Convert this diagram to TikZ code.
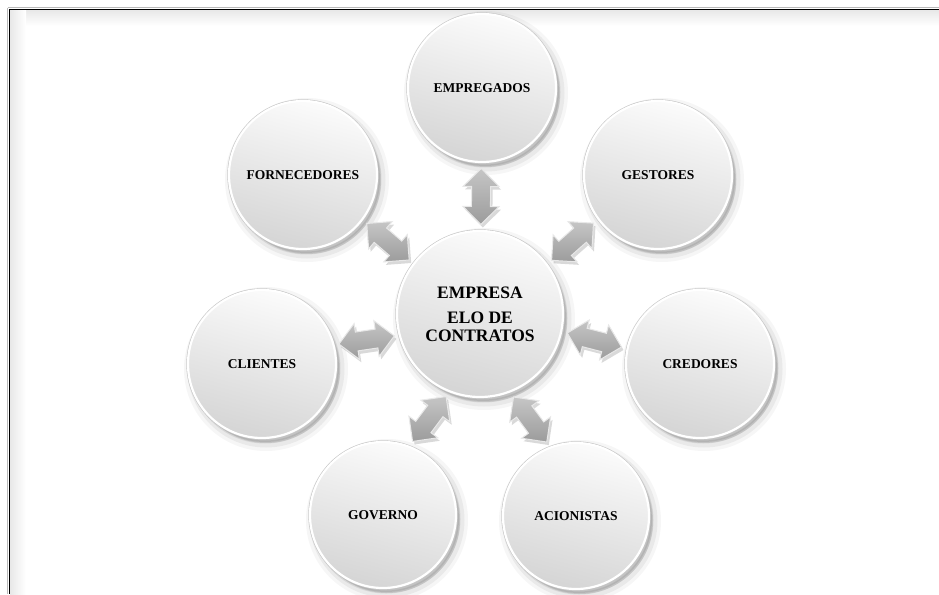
\documentclass[tikz,border=0pt]{standalone}
\usepackage{fontspec}
\setmainfont{Liberation Serif}
\usetikzlibrary{shapes.arrows,calc}

% double block arrow placed in the gap between the hub and an outer circle
% #1 outer node, #2 its radius (pt), #3 extra turn of the arrow (deg)
\newcommand\tiearrow[3]{%
  \path let \p1=($(#1)-(hub)$) in
    node[linkarrow, rotate={atan2(\y1,\x1)+#3}] (tie-#1)
      at ($(hub)!{0.5*(85pt+veclen(\x1,\y1)-#2pt-2pt)}!(#1)$) {};%
}

\begin{document}
\begin{tikzpicture}[x=1pt, y={(0pt,-1pt)},
  softshadow/.style={
    preaction={draw=black, fill=black, opacity=0.035, line width=16pt,
      transform canvas={shift={(4pt,-5pt)}}},
    preaction={draw=black, fill=black, opacity=0.05, line width=9pt,
      transform canvas={shift={(4pt,-5pt)}}},
    preaction={draw=black, fill=black, opacity=0.08, line width=3pt,
      transform canvas={shift={(3pt,-4pt)}}}},
  bubble/.style={circle, minimum size=#1, inner sep=0pt, softshadow,
    preaction={draw=gray!45, line width=3.4pt},
    top color=gray!3, bottom color=gray!33, shading angle=-15,
    draw=white, line width=2.2pt,
    font=\bfseries\fontsize{13.5}{15}\selectfont},
  bubble/.default=148pt,
  linkarrow/.style={double arrow, double arrow head extend=8.5pt,
    minimum height=56pt, minimum width=0pt, inner xsep=0pt, inner ysep=9pt,
    preaction={fill=black, opacity=0.15, transform canvas={shift={(2pt,-3pt)}}},
    top color=gray!45, bottom color=gray!78,
    draw=gray!18, line width=1pt}
]
  % page and frame
  \fill[white] (0,0) rectangle (939,594);
  \useasboundingbox (0,0) rectangle (939,594);
  \shade[top color=gray!18, bottom color=white] (10,10) rectangle (939,26);
  \shade[left color=gray!18, right color=white] (10,10) rectangle (26,594);
  \draw[gray!55, line width=0.8pt] (8,7.8) -- (939,7.8);
  \draw[gray!55, line width=0.8pt] (7.8,8) -- (7.8,594);
  \draw[black, line width=1.8pt] (9.5,9.5) -- (939,9.5);
  \draw[black, line width=1.8pt] (9.5,9.5) -- (9.5,594);

  % circles
  \node[bubble=166pt, align=center, font=\bfseries\fontsize{17.5}{18}\selectfont]
    (hub) at (480,314) {\bfseries EMPRESA\\[7pt]\bfseries ELO DE\\\bfseries CONTRATOS};
  \node[bubble] (empregados)   at (482,88)  {EMPREGADOS};
  \node[bubble] (fornecedores) at (303,175) {FORNECEDORES};
  \node[bubble] (gestores)     at (658,175) {GESTORES};
  \node[bubble] (clientes)     at (262,364) {CLIENTES};
  \node[bubble] (credores)     at (700,364) {CREDORES};
  \node[bubble=146pt] (governo)    at (383,515) {GOVERNO};
  \node[bubble=146pt] (acionistas) at (576,516) {ACIONISTAS};

  % links
  \tiearrow{empregados}{74}{0}
  \tiearrow{fornecedores}{74}{-2.6}
  \tiearrow{gestores}{74}{3.6}
  \tiearrow{clientes}{74}{-4.5}
  \tiearrow{credores}{74}{-1.7}
  \tiearrow{governo}{73}{-11}
  \tiearrow{acionistas}{73}{11}
\end{tikzpicture}
\end{document}
